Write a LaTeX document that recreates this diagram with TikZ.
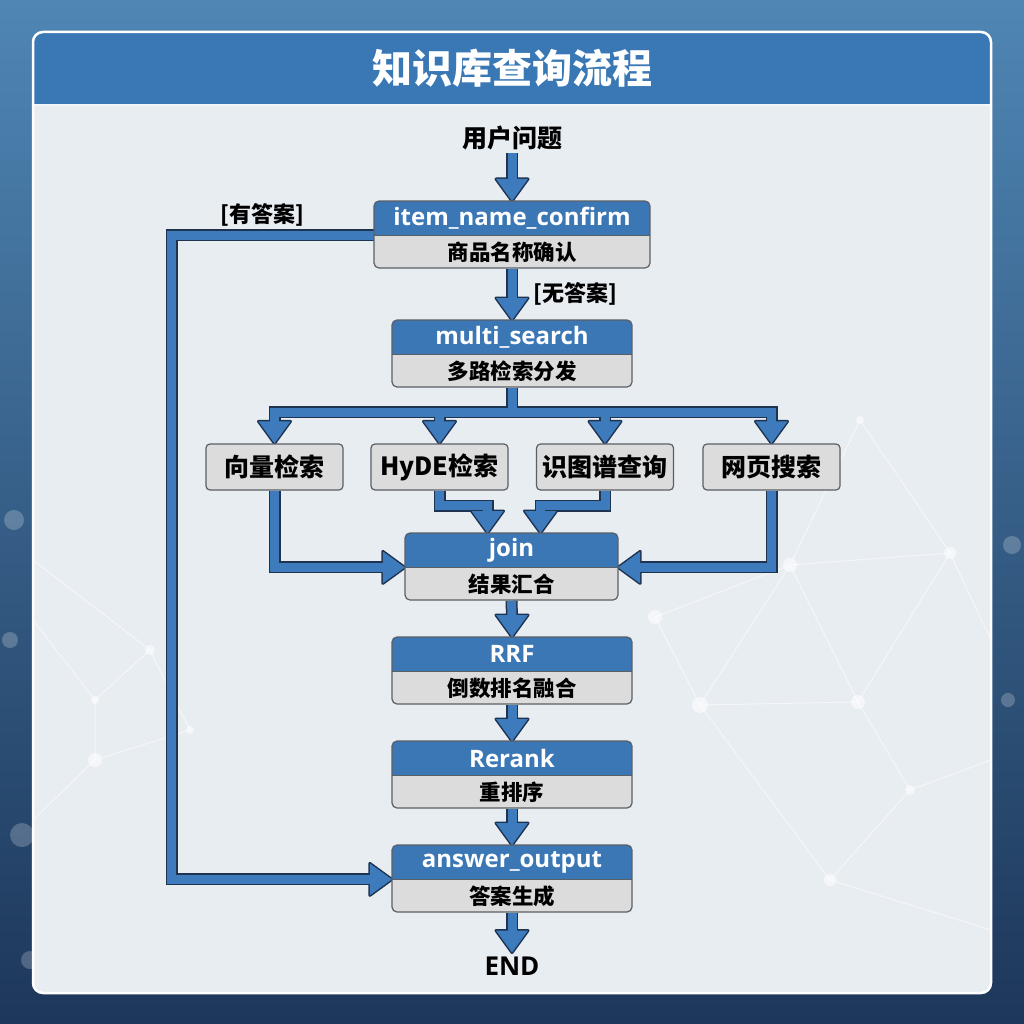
\documentclass[tikz,border=0pt]{standalone}
\usepackage{fontspec}
\setmainfont{Noto Sans CJK SC}
\newfontfamily\lat{Open Sans}
\usetikzlibrary{calc}
\definecolor{hdrblue}{HTML}{3B77B5}
\definecolor{titleblue}{HTML}{3A78B5}
\definecolor{subgray}{HTML}{DCDCDC}
\definecolor{boxline}{HTML}{5A5F66}
\definecolor{arrowblue}{HTML}{3E7BBD}
\definecolor{arrowdark}{HTML}{1E3350}
\definecolor{panelfill}{HTML}{E8EDF2}
\definecolor{bgtop}{HTML}{4F86B4}
\definecolor{bgbot}{HTML}{1D375A}
\pgfdeclarelayer{bg}
\pgfdeclarelayer{conn}
\pgfsetlayers{bg,conn,main}
\tikzset{
  hdrtext/.style={text=white, font=\lat\bfseries\fontsize{24}{27}\selectfont, inner sep=0pt},
  subtext/.style={text=black, font=\bfseries\fontsize{21.5}{25}\selectfont, inner sep=0pt},
  plainbox/.style={fill=subgray, draw=boxline, line width=1.2pt, rounded corners=4pt,
    minimum width=137pt, minimum height=46pt, inner sep=2pt, font=\bfseries\fontsize{25}{28}\selectfont},
  lbl/.style={font=\bfseries\fontsize{22}{26}\selectfont, inner sep=1pt},
  shaftout/.style={draw=arrowdark, line width=12pt, line join=miter},
  shaftin/.style={draw=arrowblue, line width=9pt, line join=miter},
  headout/.style={fill=arrowdark, draw=arrowdark, line width=3pt, line join=round},
  headin/.style={fill=arrowblue},
  netline/.style={white, opacity=0.55, line width=1pt},
  netdot/.style={white, opacity=0.55}
}
% stage box: name, x, ytop, width, title, subtitle
\newcommand\stage[6]{%
  \begin{scope}
    \clip[rounded corners=5pt] (#2-#4/2,#3) rectangle (#2+#4/2,#3+67);
    \fill[subgray] (#2-#4/2,#3) rectangle (#2+#4/2,#3+67);
    \fill[hdrblue] (#2-#4/2,#3) rectangle (#2+#4/2,#3+34);
  \end{scope}
  \draw[boxline, line width=1.2pt, rounded corners=5pt] (#2-#4/2,#3) rectangle (#2+#4/2,#3+67);
  \draw[boxline, line width=1pt] (#2-#4/2,#3+34) -- (#2+#4/2,#3+34);
  \node[hdrtext, minimum width=#4pt, minimum height=34pt, anchor=north] (#1) at (#2,#3) {#5};
  \node[subtext, minimum width=#4pt, minimum height=33pt, anchor=north] (#1b) at (#1.south) {#6};
}
\newcommand\hdown[2]{\path[#1] (#2) -- ++(-16,-22) -- ++(32,0) -- cycle;}
\newcommand\hright[2]{\path[#1] (#2) -- ++(-22,-16) -- ++(0,32) -- cycle;}
\newcommand\hleft[2]{\path[#1] (#2) -- ++(22,-16) -- ++(0,32) -- cycle;}
\newcommand\conns[2]{%
  \path[#1] (q.south) -- ($(inc.north)+(0,-20)$); \hdown{#2}{inc.north}
  \path[#1] (incb.south) -- ($(ms.north)+(0,-20)$); \hdown{#2}{ms.north}
  \foreach \nn in {n1,n2,n3,n4}{%
    \path[#1] (msb.south) -- (forkc) -| ($(\nn.north)+(0,-20)$); \hdown{#2}{\nn.north}
  }
  \path[#1] (n1.south) |- ($(join.south west)+(-20,0)$); \hright{#2}{join.south west}
  \path[#1] (n2.south) -- ++(0,15) -| ($(join.north)+(-24,-20)$); \hdown{#2}{$(join.north)+(-24,0)$}
  \path[#1] (n3.south) -- ++(0,15) -| ($(join.north)+(29,-20)$); \hdown{#2}{$(join.north)+(29,0)$}
  \path[#1] (n4.south) |- ($(join.south east)+(20,0)$); \hleft{#2}{join.south east}
  \path[#1] (joinb.south) -- ($(rrf.north)+(0,-20)$); \hdown{#2}{rrf.north}
  \path[#1] (rrfb.south) -- ($(rr.north)+(0,-20)$); \hdown{#2}{rr.north}
  \path[#1] (rrb.south) -- ($(ao.north)+(0,-20)$); \hdown{#2}{ao.north}
  \path[#1] (aob.south) -- ($(fin.north)+(0,-20)$); \hdown{#2}{fin.north}
  \path[#1] (inc.south west) -| ($(ao.south west)+(-220,0)$) -- ($(ao.south west)+(-20,0)$); \hright{#2}{ao.south west}
}
\begin{document}
\begin{tikzpicture}[x=1pt, y=-1pt]
\useasboundingbox (0,0) rectangle (1024,1024);
\begin{pgfonlayer}{bg}
  \shade[top color=bgtop, bottom color=bgbot] (0,0) rectangle (1024,1024);
  % bokeh on outer background
  \foreach \px/\py/\r in {14/520/10, 10/640/8, 22/835/12, 1012/545/9, 1008/700/7, 30/960/9}{
    \fill[white, opacity=0.22] (\px,\py) circle (\r pt);
  }
  % panel
  \fill[panelfill, rounded corners=10pt] (33,32) rectangle (991,993);
  \begin{scope}
    \clip[rounded corners=10pt] (33,32) rectangle (991,993);
    \fill[titleblue] (33,32) rectangle (991,104);
    \draw[white, opacity=0.5, line width=2pt] (33,105) -- (991,105);
    % faint network
    \draw[netline] (655,617) -- (700,705) -- (790,565) -- (655,617);
    \draw[netline] (790,565) -- (858,702) -- (700,705);
    \draw[netline] (858,702) -- (950,553) -- (790,565);
    \draw[netline] (950,553) -- (991,640);
    \draw[netline] (858,702) -- (910,790) -- (991,760);
    \draw[netline] (910,790) -- (830,880) -- (700,705);
    \draw[netline] (830,880) -- (991,930);
    \draw[netline] (33,620) -- (95,700) -- (150,650) -- (33,560);
    \draw[netline] (95,700) -- (95,760) -- (33,820);
    \draw[netline] (150,650) -- (190,730) -- (95,760);
    \draw[netline] (860,420) -- (950,553);
    \draw[netline] (860,420) -- (790,565);
    \foreach \px/\py/\r in {655/617/7, 700/705/8, 790/565/7, 858/702/7, 950/553/6,
        910/790/5, 830/880/6, 95/760/7, 150/650/5, 190/730/4, 95/700/4, 860/420/4}{
      \fill[netdot] (\px,\py) circle (\r pt);
    }
  \end{scope}
  \draw[white, line width=2.5pt, rounded corners=10pt] (33,32) rectangle (991,993);
\end{pgfonlayer}

\node[text=white, font=\bfseries\fontsize{40}{44}\selectfont] (title) at (512,68) {知识库查询流程};
\node[font=\bfseries\fontsize{25}{28}\selectfont, inner sep=3pt] (q) at (512,138) {用户问题};

\stage{inc}{512}{201}{276}{item\_name\_confirm}{商品名称确认}
\stage{ms}{512}{320}{240}{multi\_search}{多路检索分发}
\coordinate (forkc) at (512,412);
\node[plainbox] (n1) at (274.5,467) {向量检索};
\node[plainbox] (n2) at (439.5,467) {HyDE检索};
\node[plainbox] (n3) at (605,467) {识图谱查询};
\node[plainbox] (n4) at (771.5,467) {网页搜索};
\stage{join}{511.5}{533}{213}{join}{结果汇合}
\stage{rrf}{512}{637}{240}{RRF}{倒数排名融合}
\stage{rr}{512}{741}{240}{Rerank}{重排序}
\stage{ao}{512}{845}{240}{answer\_output}{答案生成}
\node[font=\lat\bfseries\fontsize{26}{28}\selectfont, inner sep=4pt] (fin) at (512,966) {END};

\node[lbl] (yes) at (262,215) {[有答案]};
\node[lbl] (no) at (575,294) {[无答案]};

\begin{pgfonlayer}{conn}
  \conns{shaftout}{headout}
  \conns{shaftin}{headin}
\end{pgfonlayer}
\end{tikzpicture}
\end{document}
